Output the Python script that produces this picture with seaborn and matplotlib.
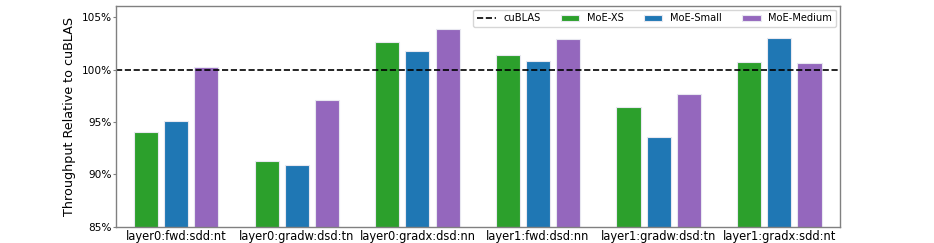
import pandas as pd
import numpy as np
import matplotlib
matplotlib.use('Agg')
import matplotlib.pyplot as plt
import seaborn as sns
from matplotlib.ticker import FuncFormatter

# Throughput relative to cuBLAS (%) for each kernel
kernels = ['layer0:fwd:sdd:nt', 'layer0:gradw:dsd:tn', 'layer0:gradx:dsd:nn',
           'layer1:fwd:dsd:nn', 'layer1:gradw:dsd:tn', 'layer1:gradx:sdd:nt']
models = ['MoE-XS', 'MoE-Small', 'MoE-Medium']
moe_xs = [94.05, 91.3, 102.6, 101.35, 96.45, 100.68]
moe_small = [95.1, 90.95, 101.75, 100.78, 93.6, 102.97]
moe_medium = [100.27, 97.07, 103.86, 102.9, 97.64, 100.62]
colors = ['#2ca02c', '#1f77b4', '#9467bd']

df = pd.DataFrame({
    'kernel': kernels * 3,
    'model': [m for m in models for _ in kernels],
    'throughput': moe_xs + moe_small + moe_medium,
})

sns.set_style('white', {'text.color': 'black', 'axes.labelcolor': 'black',
                        'xtick.color': 'black', 'ytick.color': 'black'})
fig, ax = plt.subplots(figsize=(9.34, 2.43), dpi=100)
fig.subplots_adjust(left=0.124, right=0.899, top=0.975, bottom=0.066)

sns.barplot(data=df, x='kernel', y='throughput', hue='model', hue_order=models,
            palette=colors, width=0.75, gap=0.2, edgecolor='#e8e8f0', linewidth=0.8,
            saturation=1, ax=ax)

line = ax.axhline(100, color='black', linestyle='--', linewidth=1.2, label='cuBLAS')
ax.set_ylim(85, 106.05)
ax.set_xlim(-0.5, 5.5)
ax.yaxis.set_major_formatter(FuncFormatter(lambda v, p: '%d%%' % v))
ax.set_yticks([85, 90, 95, 100, 105])
ax.set_xlabel('')
ax.set_ylabel('Throughput Relative to cuBLAS', fontsize=9.2, labelpad=4)
ax.tick_params(axis='x', labelsize=8.3, length=0, pad=2)
ax.tick_params(axis='y', labelsize=7.6, length=2, width=0.8, left=True, pad=1,
               color='#808080')
for s in ax.spines.values():
    s.set_color('#808080')
    s.set_linewidth(1)

handles, labels = ax.get_legend_handles_labels()
order = [labels.index('cuBLAS')] + [labels.index(m) for m in models]
ax.legend([handles[i] for i in order], [labels[i] for i in order], ncol=4,
          loc='upper right', fontsize=7.1, frameon=True, handlelength=1.9,
          columnspacing=2.0, borderaxespad=0.35)

plt.savefig('out.png', dpi=100)
